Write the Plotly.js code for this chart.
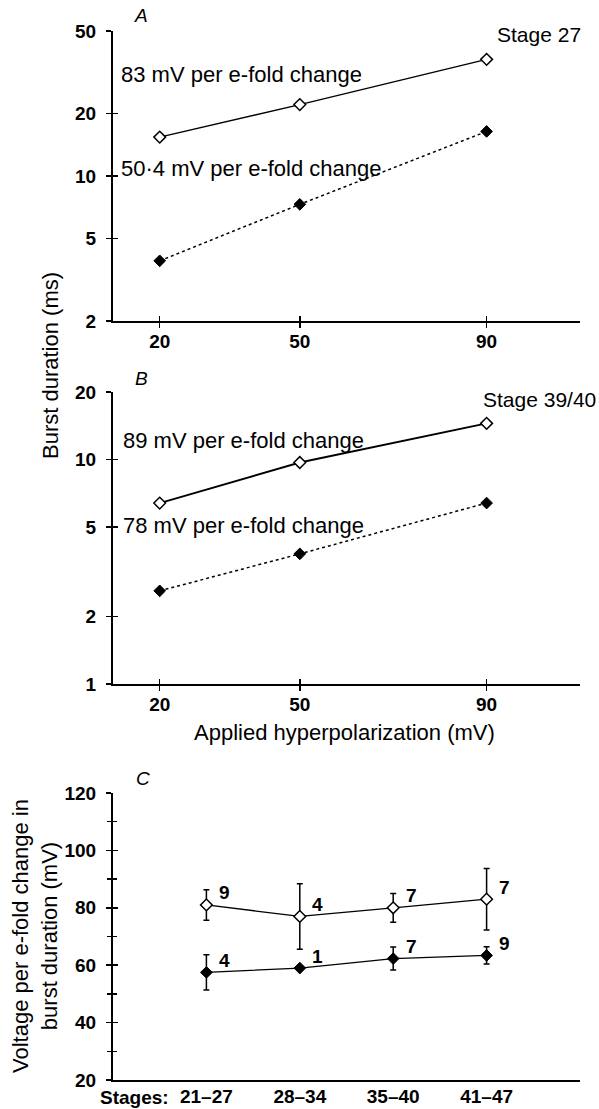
<!DOCTYPE html>
<html><head><meta charset="utf-8">
<script src="https://cdn.plot.ly/plotly-3.0.1.min.js"></script>
<style>html,body{margin:0;padding:0;background:#fff}#chart{width:599px;height:1109px}</style>
</head><body><div id="chart"></div>
<script>
// ---- Data ----
// Panel A (Stage 27)
const voltsA = [20, 50, 90];
const openA = [15.4, 22.1, 36.5];
const filledA = [3.9, 7.3, 16.4];
// Panel B (Stage 39/40)
const voltsB = [20, 50, 90];
const openB = [6.4, 9.7, 14.5];
const filledB = [2.6, 3.8, 6.4];
const xTicksAB = [20, 50, 90];
const yTicksA = [2, 5, 10, 20, 50];
const yTicksB = [1, 2, 5, 10, 20];
// Panel C
const stages = ['21–27', '28–34', '35–40', '41–47'];
const openC = [81, 77, 80, 83];
const openCErr = [5.3, 11.4, 5, 10.7];
const filledC = [57.5, 59, 62.3, 63.4];
const filledCErr = [6.1, 0, 4, 3];
const nOpen = [9, 4, 7, 7];
const nFilled = [4, 1, 7, 9];
const yTicksC = [20, 40, 60, 80, 100, 120];

// ---- Layout helpers ----
const W = 599, H = 1109;
const px = v => v / W;
const py = v => 1 - v / H;
const F = 'Liberation Sans, Arial, Helvetica, sans-serif';
const tickFont = {family: F, size: 19, color: '#000', weight: 'bold'};
const xDom = [px(113), px(580)];
const yDomA = [py(321), py(31)];
const yDomB = [py(684), py(392)];
const yDomC = [py(1080), py(793)];

const base = {showline: true, linecolor: '#000', linewidth: 2, showgrid: false, zeroline: false,
  ticks: 'outside', ticklen: 5, tickwidth: 1.5, tickcolor: '#000', tickfont: tickFont, ticklabelstandoff: 5};
const inner = {showline: false, showgrid: false, zeroline: false, ticks: 'inside', ticklen: 5,
  tickwidth: 1.5, tickcolor: '#000', showticklabels: false};

const openMarker = {symbol: 'diamond', size: 9, color: '#fff', line: {color: '#000', width: 1.5}};
const fillMarker = {symbol: 'diamond', size: 9, color: '#000', line: {color: '#000', width: 1}};

const traces = [
  {x: voltsA, y: openA, xaxis: 'x', yaxis: 'y', mode: 'lines+markers', line: {color: '#000', width: 1.4}, marker: openMarker},
  {x: voltsA, y: filledA, xaxis: 'x', yaxis: 'y', mode: 'lines+markers', line: {color: '#000', width: 1.5, dash: 'dot'}, marker: fillMarker},
  {x: voltsB, y: openB, xaxis: 'x2', yaxis: 'y2', mode: 'lines+markers', line: {color: '#000', width: 1.9}, marker: openMarker},
  {x: voltsB, y: filledB, xaxis: 'x2', yaxis: 'y2', mode: 'lines+markers', line: {color: '#000', width: 1.5, dash: 'dot'}, marker: fillMarker},
  {x: stages, y: openC, xaxis: 'x3', yaxis: 'y3', mode: 'lines+markers', line: {color: '#000', width: 1.3}, marker: openMarker,
    error_y: {type: 'data', array: openCErr, visible: true, color: '#000', thickness: 1.5, width: 3}},
  {x: stages, y: filledC, xaxis: 'x3', yaxis: 'y3', mode: 'lines+markers', line: {color: '#000', width: 1.3}, marker: fillMarker,
    error_y: {type: 'data', array: filledCErr, visible: true, color: '#000', thickness: 1.5, width: 3}},
  // empty traces to activate the overlay tick axes
  {x: [], y: [], xaxis: 'x4', yaxis: 'y', hoverinfo: 'skip'},
  {x: [], y: [], xaxis: 'x', yaxis: 'y4', hoverinfo: 'skip'},
  {x: [], y: [], xaxis: 'x5', yaxis: 'y2', hoverinfo: 'skip'},
  {x: [], y: [], xaxis: 'x2', yaxis: 'y5', hoverinfo: 'skip'},
  {x: [], y: [], xaxis: 'x3', yaxis: 'y6', hoverinfo: 'skip'}
];

const rngX = [10, 110];
const rngA = [Math.log10(2), Math.log10(50)];
const rngB = [0, Math.log10(20)];
const rngC = [20, 120];

const annTxt = (text, x, y, opts) => Object.assign({text, x: px(x), y: py(y), xref: 'paper', yref: 'paper',
  showarrow: false, xanchor: 'left', yanchor: 'middle', font: {family: F, size: 22, color: '#000'}}, opts || {});
const letterFont = {family: F, size: 19, color: '#000', style: 'italic'};
const titleFont = {family: F, size: 22, color: '#000'};
const stageFont = {family: F, size: 21, color: '#000'};

const annotations = [
  annTxt('A', 141, 16, {xanchor: 'center', font: letterFont}),
  annTxt('B', 141, 378, {xanchor: 'center', font: letterFont}),
  annTxt('C', 143, 778, {xanchor: 'center', font: letterFont}),
  annTxt('83 mV per e-fold change', 119, 74),
  annTxt('50·4 mV per e-fold change', 119, 168),
  annTxt('Stage 27', 495, 35, {font: stageFont}),
  annTxt('89 mV per e-fold change', 121, 440),
  annTxt('78 mV per e-fold change', 121, 525),
  annTxt('Stage 39/40', 481, 400, {font: stageFont}),
  annTxt('Burst duration (ms)', 50, 366, {xanchor: 'center', textangle: -90, font: titleFont}),
  annTxt('Applied hyperpolarization (mV)', 344, 732, {xanchor: 'center', font: titleFont}),
  annTxt('Voltage per e-fold change in<br>burst duration (mV)', 35, 936, {xanchor: 'center', textangle: -90, font: titleFont}),
  annTxt('Stages:', 171, 1097, {xanchor: 'right', font: {family: F, size: 19, color: '#000', weight: 'bold'}})
];
stages.forEach((s, i) => {
  annotations.push({text: String(nOpen[i]), x: s, y: openC[i], xref: 'x3', yref: 'y3', showarrow: false,
    xshift: 18, yshift: 12, font: {family: F, size: 19, color: '#000', weight: 'bold'}});
  annotations.push({text: String(nFilled[i]), x: s, y: filledC[i], xref: 'x3', yref: 'y3', showarrow: false,
    xshift: 18, yshift: 12, font: {family: F, size: 19, color: '#000', weight: 'bold'}});
});

const layout = {
  width: W, height: H, margin: {l: 0, r: 0, t: 0, b: 0},
  paper_bgcolor: '#fff', plot_bgcolor: 'rgba(0,0,0,0)', showlegend: false,
  font: {family: F, color: '#000'},
  xaxis: Object.assign({}, base, {domain: xDom, anchor: 'y', range: rngX, tickvals: xTicksAB, ticktext: xTicksAB.map(String), ticklabelstandoff: -3}),
  yaxis: Object.assign({}, base, {domain: yDomA, anchor: 'x', type: 'log', range: rngA, tickvals: yTicksA, ticktext: yTicksA.map(String), ticklabelstandoff: 6}),
  xaxis2: Object.assign({}, base, {domain: xDom, anchor: 'y2', range: rngX, tickvals: xTicksAB, ticktext: xTicksAB.map(String), ticklabelstandoff: -3}),
  yaxis2: Object.assign({}, base, {domain: yDomB, anchor: 'x2', type: 'log', range: rngB, tickvals: yTicksB, ticktext: yTicksB.map(String), ticklabelstandoff: 6}),
  xaxis3: Object.assign({}, base, {domain: xDom, anchor: 'y3', type: 'category', categoryarray: stages, categoryorder: 'array',
    range: [-1, 4], ticks: '', tickfont: {family: F, size: 19, color: '#000', weight: 'bold'}, ticklabelstandoff: -2}),
  yaxis3: Object.assign({}, base, {domain: yDomC, anchor: 'x3', range: rngC, tickvals: yTicksC, ticktext: yTicksC.map(String), ticklabelstandoff: 6,
    minor: {tickmode: 'linear', tick0: 0, dtick: 10, ticks: 'outside', ticklen: 4, tickwidth: 1.5, tickcolor: '#000', showgrid: false}}),
  xaxis4: Object.assign({}, inner, {overlaying: 'x', anchor: 'y', range: rngX, tickvals: xTicksAB}),
  yaxis4: Object.assign({}, inner, {overlaying: 'y', anchor: 'x', type: 'log', range: rngA, tickvals: yTicksA}),
  xaxis5: Object.assign({}, inner, {overlaying: 'x2', anchor: 'y2', range: rngX, tickvals: xTicksAB}),
  yaxis5: Object.assign({}, inner, {overlaying: 'y2', anchor: 'x2', type: 'log', range: rngB, tickvals: yTicksB}),
  yaxis6: Object.assign({}, inner, {overlaying: 'y3', anchor: 'x3', range: rngC, tickvals: yTicksC,
    minor: {tickmode: 'linear', tick0: 0, dtick: 10, ticks: 'inside', ticklen: 4, tickwidth: 1.5, tickcolor: '#000', showgrid: false}}),
  annotations: annotations
};

Plotly.newPlot('chart', traces, layout, {displayModeBar: false, staticPlot: true});
</script>
</body></html>
